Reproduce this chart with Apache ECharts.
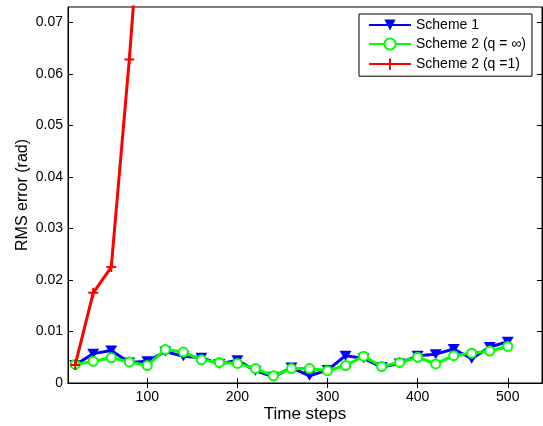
<!DOCTYPE html>
<html><head><meta charset="utf-8">
<script src="https://cdn.jsdelivr.net/npm/echarts@6/dist/echarts.min.js"></script>
<style>html,body{margin:0;padding:0;background:#fff}#c{width:543px;height:426px}</style>
</head><body><div id="c"></div>
<script>
const steps = [20,40,60,80,100,120,140,160,180,200,220,240,260,280,300,320,340,360,380,400,420,440,460,480,500];
const scheme1 = [0.0035,0.0057,0.0063,0.0040,0.0042,0.0061,0.0052,0.0049,0.0037,0.0044,0.0024,0.0012,0.0030,0.0014,0.0025,0.0053,0.0048,0.0031,0.0038,0.0053,0.0056,0.0066,0.0047,0.0070,0.0080];
const scheme2Inf = [0.0036,0.0042,0.0049,0.0041,0.0034,0.0065,0.0060,0.0045,0.0040,0.0038,0.0028,0.0014,0.0028,0.0028,0.0024,0.0034,0.0052,0.0032,0.0040,0.0050,0.0037,0.0053,0.0058,0.0062,0.0071];
const scheme2Q1Steps = [20,40,60,80,100];
const scheme2Q1 = [0.0035,0.0175,0.0225,0.0628,0.109];
const xTicks = [100,200,300,400,500];
const yTicks = [0,0.01,0.02,0.03,0.04,0.05,0.06,0.07];
const names = ['Scheme 1','Scheme 2 (q = \u221e)','Scheme 2 (q =1)'];

const font = 'Liberation Sans, Arial, sans-serif';
const pairs = (xs, ys) => xs.map((x,i)=>[x, ys[i]]);
const chart = echarts.init(document.getElementById('c'));
const tickStyle = {show:true, inside:true, length:5, lineStyle:{color:'#000', width:1}};
chart.setOption({
  animation:false,
  grid:{left:68, top:7, width:474, height:376, outerBoundsMode:'none', show:true, borderColor:'#000', borderWidth:1, backgroundColor:'#fff'},
  xAxis:[{
    type:'value', min:12, max:538, position:'bottom',
    name:'Time steps', nameLocation:'middle', nameGap:23, nameMoveOverlap:false,
    nameTextStyle:{fontFamily:font, fontSize:17, color:'#000'},
    axisLine:{show:true, lineStyle:{color:'#000', width:1}},
    axisTick:Object.assign({customValues:xTicks}, tickStyle),
    axisLabel:{customValues:xTicks, fontFamily:font, fontSize:14, color:'#000', margin:7},
    splitLine:{show:false}
  },{
    type:'value', min:12, max:538, position:'top',
    axisLine:{show:true, lineStyle:{color:'#000'}},
    axisTick:Object.assign({customValues:xTicks}, tickStyle),
    axisLabel:{show:false}, splitLine:{show:false}
  }],
  yAxis:[{
    type:'value', min:0, max:0.073, position:'left',
    name:'RMS error (rad)', nameLocation:'middle', nameGap:37, nameMoveOverlap:false,
    nameTextStyle:{fontFamily:font, fontSize:16, color:'#000'},
    axisLine:{show:true, lineStyle:{color:'#000', width:1}},
    axisTick:Object.assign({customValues:yTicks}, tickStyle),
    axisLabel:{customValues:yTicks, fontFamily:font, fontSize:14, color:'#000', margin:5,
      formatter:v => v===0 ? '0' : v.toFixed(2)},
    splitLine:{show:false}
  },{
    type:'value', min:0, max:0.073, position:'right',
    axisLine:{show:true, lineStyle:{color:'#000'}},
    axisTick:Object.assign({customValues:yTicks}, tickStyle),
    axisLabel:{show:false}, splitLine:{show:false}
  }],
  legend:{
    left:359, top:14, orient:'vertical', itemWidth:42, itemHeight:14, itemGap:5,
    padding:[4,6,4,9], borderColor:'#000', borderWidth:1, backgroundColor:'#fff',
    textStyle:{fontFamily:font, fontSize:14, color:'#000'},
    data:names
  },
  series:[{
    name:names[0], type:'line', data:pairs(steps, scheme1),
    lineStyle:{color:'#0000ff', width:3},
    symbol:'triangle', symbolRotate:180, symbolSize:[12,10],
    itemStyle:{color:'#0000ff'}, z:2
  },{
    name:names[1], type:'line', data:pairs(steps, scheme2Inf),
    lineStyle:{color:'#00ff00', width:3},
    symbol:'emptyCircle', symbolSize:9,
    itemStyle:{color:'#00ff00', borderColor:'#00ff00', borderWidth:2.5}, z:3
  },{
    name:names[2], type:'line', data:pairs(scheme2Q1Steps, scheme2Q1), clip:true,
    lineStyle:{color:'#ff0000', width:3},
    symbol:'path://M0,5 L10,5 M5,0 L5,10', symbolSize:10,
    itemStyle:{color:'none', borderColor:'#ff0000', borderWidth:2}, z:4
  }]
});
</script></body></html>
